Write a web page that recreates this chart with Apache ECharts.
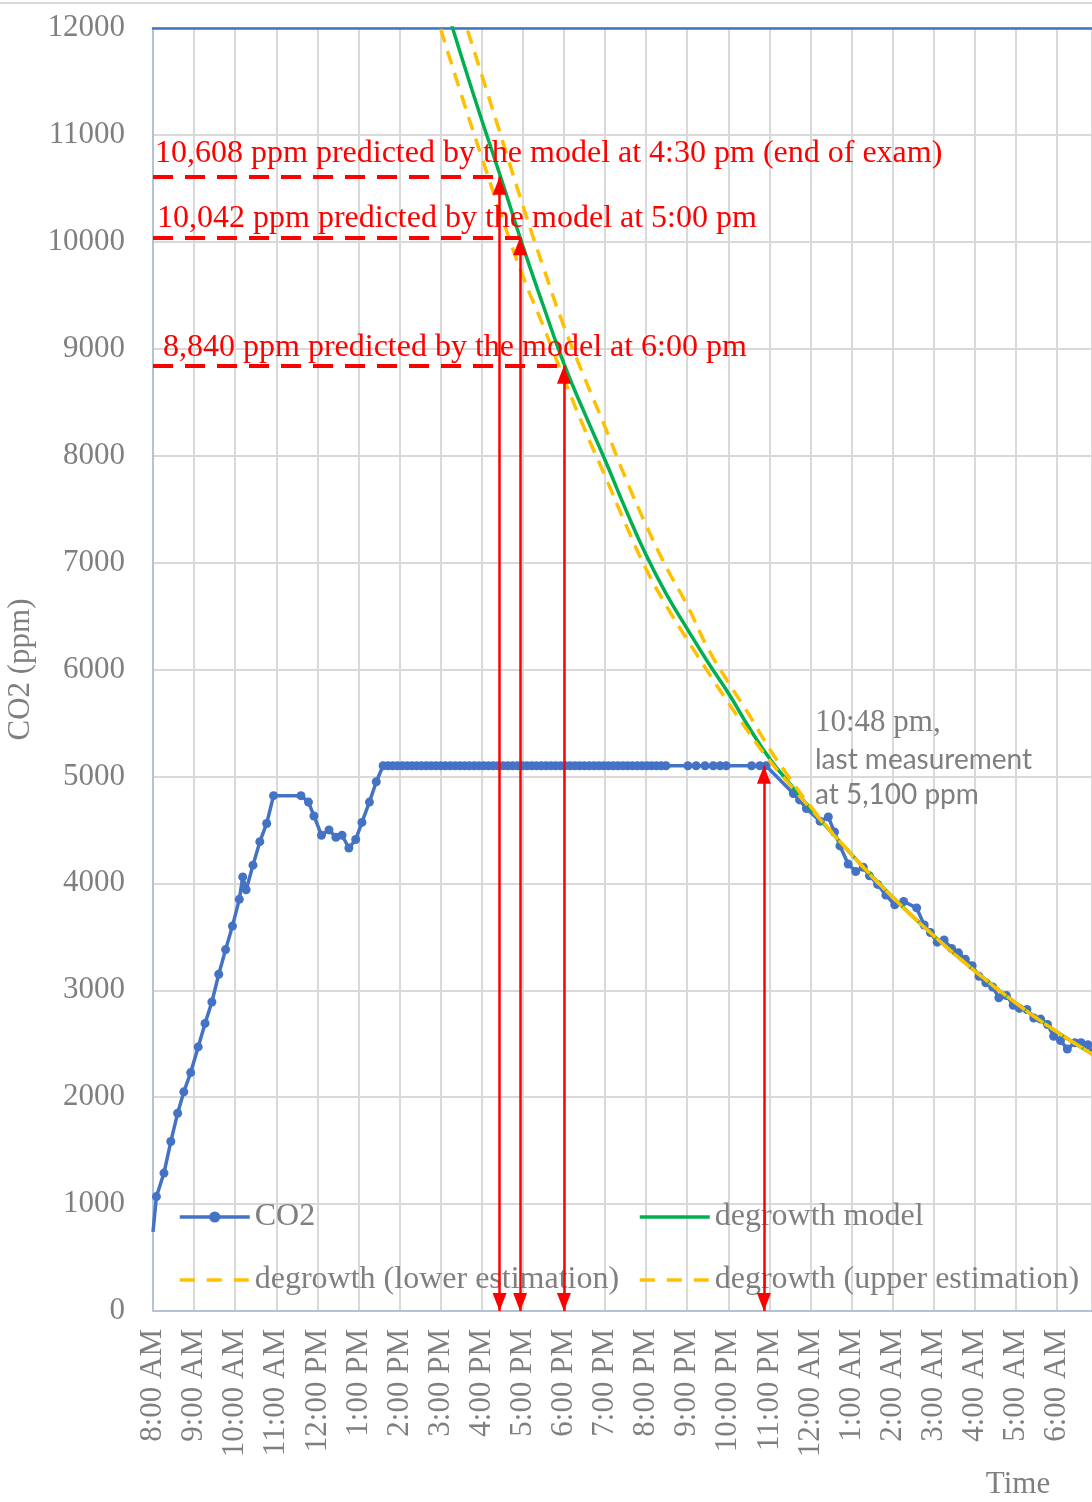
<!DOCTYPE html>
<html>
<head>
<meta charset="utf-8">
<script src="https://cdn.jsdelivr.net/npm/echarts@6/dist/echarts.min.js"></script>
<style>
  html, body { margin: 0; padding: 0; background: #fff; }
  #chart { width: 1092px; height: 1502px; }
</style>
</head>
<body>
<div id="chart"></div>
<script>
// clock times, 24h; after midnight keeps counting (24:10 = 0:10 AM next day)
const co2Times = [
  '08:00', '08:05', '08:16', '08:26', '08:36', '08:45', '08:55', '09:06', '09:16', '09:26',
  '09:36', '09:46', '09:56', '10:06', '10:11', '10:16', '10:26', '10:36', '10:46', '10:56',
  '11:36', '11:47', '11:55', '12:06', '12:17', '12:27', '12:36', '12:46', '12:56', '13:05',
  '13:16', '13:26',
  '13:36', '13:43', '13:50', '13:57', '14:04', '14:11', '14:18', '14:25', '14:32', '14:39',
  '14:46', '14:53', '15:00', '15:07', '15:14', '15:21', '15:28', '15:35', '15:42', '15:49',
  '15:56', '16:03', '16:10', '16:17', '16:24', '16:31', '16:38', '16:45', '16:52', '16:59',
  '17:06', '17:13', '17:20', '17:27', '17:34', '17:41', '17:48', '17:55', '18:02', '18:09',
  '18:16', '18:23', '18:30', '18:37', '18:44', '18:51', '18:58', '19:05', '19:12', '19:19',
  '19:26', '19:33', '19:40', '19:47', '19:54', '20:01', '20:08', '20:15', '20:22', '20:29',
  '21:01', '21:13', '21:26', '21:38', '21:48', '21:57',
  '22:34', '22:46', '22:55',
  '23:35', '23:44', '23:54', '24:14', '24:26', '24:35', '24:43', '24:55', '25:06', '25:17',
  '25:26', '25:38', '25:50', '26:03', '26:16', '26:35', '26:46', '26:55', '27:05', '27:15',
  '27:26', '27:36', '27:46', '27:56', '28:06', '28:16', '28:26', '28:35', '28:46', '28:56',
  '29:05', '29:16', '29:26', '29:36', '29:46', '29:55', '30:05', '30:15', '30:26', '30:35',
  '30:45', '30:55'
];
const co2Values = [
  740, 1070, 1290, 1585, 1850, 2050, 2230, 2470, 2690, 2890,
  3150, 3380, 3600, 3850, 4060, 3940, 4170, 4390, 4560, 4820,
  4820, 4760, 4630, 4450, 4500, 4430, 4450, 4330, 4410, 4570,
  4760, 4950,
  5100, 5100, 5100, 5100, 5100, 5100, 5100, 5100, 5100, 5100,
  5100, 5100, 5100, 5100, 5100, 5100, 5100, 5100, 5100, 5100,
  5100, 5100, 5100, 5100, 5100, 5100, 5100, 5100, 5100, 5100,
  5100, 5100, 5100, 5100, 5100, 5100, 5100, 5100, 5100, 5100,
  5100, 5100, 5100, 5100, 5100, 5100, 5100, 5100, 5100, 5100,
  5100, 5100, 5100, 5100, 5100, 5100, 5100, 5100, 5100, 5100,
  5100, 5100, 5100, 5100, 5100, 5100,
  5100, 5100, 5100,
  4840, 4780, 4700, 4580, 4620, 4480, 4350, 4180, 4110, 4150,
  4070, 3990, 3890, 3800, 3830, 3770, 3610, 3540, 3450, 3470,
  3390, 3350, 3290, 3230, 3130, 3070, 3030, 2930, 2950, 2860,
  2830, 2820, 2740, 2730, 2680, 2570, 2530, 2450, 2510, 2510,
  2490, 2370
];

const modelTimes = [
  '15:00', '15:30', '16:00', '16:30', '17:00', '17:30', '18:00', '18:30', '19:00', '19:30',
  '20:00', '20:30', '21:00', '21:30', '22:00', '22:30', '23:00', '23:30', '24:00', '25:00',
  '26:00', '27:00', '28:00', '29:00', '30:00', '31:00'
];
const modelValues = [
  12360, 11740, 11140, 10560, 9960, 9400, 8860, 8400, 7960, 7500,
  7070, 6700, 6380, 6070, 5780, 5460, 5170, 4930, 4700, 4270,
  3870, 3510, 3180, 2880, 2610, 2370
];
const lowerValues = [
  11990, 11380, 10790, 10220, 9680, 9210, 8720, 8250, 7810, 7360,
  6940, 6590, 6280, 5980, 5690, 5410, 5150, 4920, 4700, 4270,
  3870, 3510, 3180, 2880, 2610, 2370
];
const upperValues = [
  12800, 12170, 11560, 10950, 10340, 9760, 9210, 8730, 8270, 7790,
  7350, 6950, 6600, 6200, 5880, 5580, 5260, 4980, 4720, 4270,
  3870, 3510, 3180, 2880, 2610, 2370
];

// predictions read by the model, and the last measurement
const predTimes = ['16:26', '16:56', '18:00'];
const predValues = [10608, 10042, 8840];
const lastTime = '22:52';
const lastValue = 5100;

const toHours = s => {
  const [h, m] = s.split(':').map(Number);
  return (h * 60 + m - 480) / 60;
};
const pairs = (times, vals) => times.map((t, i) => [toHours(t), vals[i]]);

const gray = '#7f7f7f';
const serif = '"Liberation Serif", "Times New Roman", serif';
const red = '#ff0000';

const hourLabel = v => {
  if (Math.abs(v - Math.round(v)) > 1e-6) return '';
  const h = (8 + Math.round(v)) % 24;
  const h12 = h % 12 === 0 ? 12 : h % 12;
  return h12 + ':00 ' + (h < 12 ? 'AM' : 'PM');
};

// the series starts without a marker at 8:00
const co2Data = pairs(co2Times, co2Values).map((p, i) => (i === 0 ? { value: p, symbol: 'none' } : p));

const legendText = { fontFamily: serif, fontSize: 32, color: gray };
const noDot = { opacity: 0 };
const legendDash = { width: 3.5, type: [15, 12] };

const chart = echarts.init(document.getElementById('chart'));
chart.setOption({
  animation: false,
  backgroundColor: '#fff',
  grid: { left: 153, right: 0, top: 28, bottom: 191, outerBoundsMode: 'none' },
  legend: [
    {
      left: 178, top: 1201, orient: 'vertical', padding: 0,
      itemWidth: 70, itemHeight: 14, itemGap: 31,
      selectedMode: false,
      lineStyle: { width: 3.5 },
      data: [
        'CO2',
        { name: 'degrowth (lower estimation)', itemStyle: noDot, lineStyle: legendDash }
      ],
      textStyle: legendText
    },
    {
      left: 638, top: 1201, orient: 'vertical', padding: 0,
      itemWidth: 70, itemHeight: 14, itemGap: 31,
      selectedMode: false,
      lineStyle: { width: 3.5 },
      data: [
        { name: 'degrowth model', itemStyle: noDot },
        { name: 'degrowth (upper estimation)', itemStyle: noDot, lineStyle: legendDash }
      ],
      textStyle: legendText
    }
  ],
  xAxis: [
    {
      type: 'value',
      min: 0,
      max: 22.85,
      interval: 1,
      axisLine: { show: true, lineStyle: { color: '#b4c2d8', width: 2 } },
      axisTick: { show: false },
      axisLabel: {
        rotate: 90,
        margin: 18,
        color: gray,
        fontFamily: serif,
        fontSize: 31,
        formatter: hourLabel
      },
      splitLine: { show: true, lineStyle: { color: '#d9d9d9', width: 2 } }
    },
    {
      // blue frame line along the top of the plot
      type: 'value',
      position: 'top',
      min: 0,
      max: 22.85,
      axisLine: { show: true, lineStyle: { color: '#4472c4', width: 2.5 } },
      axisTick: { show: false },
      axisLabel: { show: false },
      splitLine: { show: false }
    }
  ],
  yAxis: {
    type: 'value',
    min: 0,
    max: 12000,
    interval: 1000,
    name: 'CO2 (ppm)',
    nameLocation: 'middle',
    nameGap: 106,
    nameTextStyle: { fontFamily: serif, fontSize: 31, color: gray },
    axisLine: { show: true, lineStyle: { color: '#b4c2d8', width: 2 } },
    axisTick: { show: false },
    axisLabel: { margin: 28, color: gray, fontFamily: serif, fontSize: 31, formatter: v => String(v) },
    splitLine: { lineStyle: { color: '#d9d9d9', width: 2 } }
  },
  graphic: [
    { type: 'line', shape: { x1: 0, y1: 3, x2: 1092, y2: 3 }, style: { stroke: '#d9d9d9', lineWidth: 2 } },
    {
      type: 'text', x: 155, y: 154, z: 100,
      style: { text: '10,608 ppm predicted by the model at 4:30 pm (end of exam)', fill: red, font: '32px ' + serif, verticalAlign: 'middle' }
    },
    {
      type: 'text', x: 157, y: 219, z: 100,
      style: { text: '10,042 ppm predicted by the model at 5:00 pm', fill: red, font: '32px ' + serif, verticalAlign: 'middle' }
    },
    {
      type: 'text', x: 163, y: 348, z: 100,
      style: { text: '8,840 ppm predicted by the model at 6:00 pm', fill: red, font: '32px ' + serif, verticalAlign: 'middle' }
    },
    {
      type: 'text', x: 815, y: 723, z: 100,
      style: { text: '10:48 pm,', fill: gray, font: '31px ' + serif, verticalAlign: 'middle' }
    },
    {
      type: 'text', x: 815, y: 760, z: 100,
      style: { text: 'last measurement', fill: gray, font: '28px Lato, "Open Sans", sans-serif', verticalAlign: 'middle' }
    },
    {
      type: 'text', x: 815, y: 795, z: 100,
      style: { text: 'at 5,100 ppm', fill: gray, font: '28px Lato, "Open Sans", sans-serif', verticalAlign: 'middle' }
    },
    {
      type: 'text', x: 1018, y: 1485, z: 100,
      style: { text: 'Time', fill: gray, font: '31px ' + serif, align: 'center', verticalAlign: 'middle' }
    }
  ],
  series: [
    {
      name: 'CO2',
      type: 'line',
      data: co2Data,
      symbol: 'circle',
      symbolSize: 9,
      lineStyle: { color: '#4472c4', width: 3.5 },
      itemStyle: { color: '#4472c4' },
      z: 2
    },
    {
      name: 'degrowth model',
      type: 'line',
      data: pairs(modelTimes, modelValues),
      smooth: true,
      symbol: 'none',
      lineStyle: { color: '#00b050', width: 3.5 },
      itemStyle: { color: '#00b050' },
      z: 3
    },
    {
      name: 'degrowth (lower estimation)',
      type: 'line',
      data: pairs(modelTimes, lowerValues),
      smooth: true,
      symbol: 'none',
      lineStyle: { color: '#ffc000', width: 3.5, type: [14, 9] },
      itemStyle: { color: '#ffc000' },
      z: 4
    },
    {
      name: 'degrowth (upper estimation)',
      type: 'line',
      data: pairs(modelTimes, upperValues),
      smooth: true,
      symbol: 'none',
      lineStyle: { color: '#ffc000', width: 3.5, type: [14, 9] },
      itemStyle: { color: '#ffc000' },
      z: 4
    },
    {
      name: 'levels',
      type: 'line',
      data: [],
      z: 6,
      markLine: {
        silent: true,
        animation: false,
        symbol: ['none', 'none'],
        label: { show: false },
        lineStyle: { color: red, width: 4, type: [20, 12] },
        data: predTimes.map((t, i) => [
          { coord: [0, predValues[i]] },
          { coord: [toHours(t), predValues[i]] }
        ])
      }
    },
    {
      name: 'arrows',
      type: 'line',
      data: [],
      z: 7,
      markLine: {
        silent: true,
        animation: false,
        symbol: ['triangle', 'triangle'],
        symbolSize: [14, 18],
        symbolOffset: [[0, '50%'], [0, '50%']],
        label: { show: false },
        lineStyle: { color: red, width: 2.5, type: 'solid' },
        itemStyle: { color: red },
        data: predTimes.concat([lastTime]).map((t, i) => [
          { coord: [toHours(t), 0] },
          { coord: [toHours(t), i < predTimes.length ? predValues[i] : lastValue] }
        ])
      }
    }
  ]
});
</script>
</body>
</html>
